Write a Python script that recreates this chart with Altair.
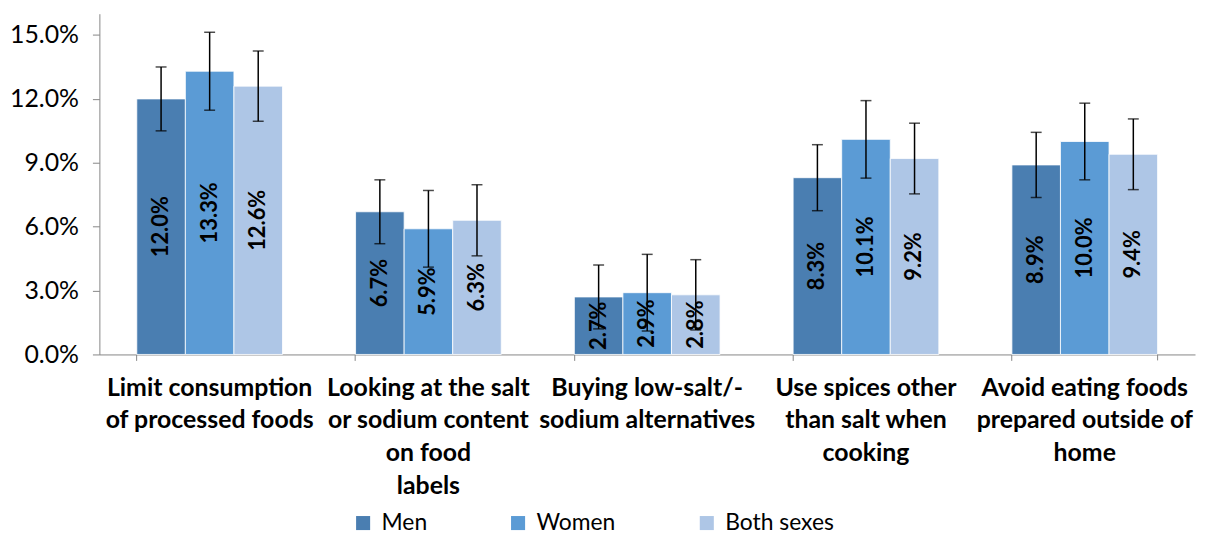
import altair as alt
import pandas as pd

categories = [
    "Limit consumption\nof processed foods",
    "Looking at the salt\nor  sodium content\non food\nlabels",
    "Buying low-salt/-\nsodium alternatives",
    "Use spices other\nthan salt when\ncooking",
    "Avoid eating foods\nprepared outside of\nhome",
]
groups = ["Men", "Women", "Both sexes"]
colors = ["#4A7EB1", "#5B9BD5", "#AEC6E6"]

men = [12.0, 6.7, 2.7, 8.3, 8.9]
women = [13.3, 5.9, 2.9, 10.1, 10.0]
both = [12.6, 6.3, 2.8, 9.2, 9.4]
men_err = [1.5, 1.5, 1.5, 1.55, 1.53]
women_err = [1.83, 1.8, 1.8, 1.82, 1.8]
both_err = [1.65, 1.67, 1.65, 1.66, 1.66]

rows = []
for i, c in enumerate(categories):
    for g, vals, errs in zip(groups, [men, women, both], [men_err, women_err, both_err]):
        v = vals[i]
        e = errs[i]
        rows.append({"cat": c, "grp": g, "val": v, "lo": v - e, "hi": v + e,
                     "mid": v / 2, "lab": f"{v:.1f}%"})
df = pd.DataFrame(rows)

FONT = "Lato"
AXIS_GRAY = "#868686"
yscale = alt.Scale(domain=[0, 16], nice=False)
yaxis = alt.Axis(values=[0, 3, 6, 9, 12, 15],
                 labelExpr="format(datum.value, '.1f') + '%'",
                 grid=False, tickSize=7, labelPadding=14,
                 labelFont=FONT, labelFontSize=25, labelColor="black",
                 tickColor=AXIS_GRAY, domainColor=AXIS_GRAY)

xscale = alt.Scale(paddingInner=0.334, paddingOuter=0.171)
xaxis = alt.Axis(labelAngle=0, labelExpr="split(datum.label, '\\n')",
                 bandPosition=0, labelFont=FONT, labelFontSize=25,
                 labelFontWeight="bold", labelColor="black",
                 labelLineHeight=33, labelLimit=0, labelPadding=15,
                 tickSize=6, tickColor=AXIS_GRAY, domainColor=AXIS_GRAY,
                 labelBaseline="top")
x = alt.X("cat:N", sort=categories, title=None, scale=xscale, axis=xaxis)
xoff = alt.XOffset("grp:N", sort=groups, scale=alt.Scale(paddingInner=0, paddingOuter=0))

bars = alt.Chart(df).mark_bar(stroke="white", strokeWidth=0.8).encode(
    x=x, xOffset=xoff,
    y=alt.Y("val:Q", scale=yscale, title=None, axis=yaxis),
    color=alt.Color("grp:N", sort=groups,
                    scale=alt.Scale(domain=groups, range=colors),
                    legend=alt.Legend(title=None, orient="none", legendX=254, legendY=501,
                                      direction="horizontal", symbolType="square",
                                      symbolSize=200, symbolStrokeWidth=0,
                                      labelFont=FONT, labelFontSize=23, labelColor="black",
                                      columnPadding=80, labelOffset=7)),
)

rule = alt.Chart(df).mark_rule(color="black", strokeWidth=1.5).encode(
    x=x, xOffset=xoff,
    y=alt.Y("lo:Q", scale=yscale, title=None, axis=yaxis), y2="hi:Q")
cap_hi = alt.Chart(df).mark_tick(color="black", thickness=1.5, size=11, orient="horizontal").encode(
    x=x, xOffset=xoff, y=alt.Y("hi:Q", scale=yscale, title=None, axis=yaxis))
cap_lo = alt.Chart(df).mark_tick(color="black", thickness=1.5, size=11, orient="horizontal").encode(
    x=x, xOffset=xoff, y=alt.Y("lo:Q", scale=yscale, title=None, axis=yaxis))
text = alt.Chart(df).mark_text(angle=270, font=FONT, fontSize=22, fontWeight="bold",
                               color="black", align="center", baseline="middle").encode(
    x=x, xOffset=xoff, y=alt.Y("mid:Q", scale=yscale, title=None, axis=yaxis), text="lab:N")

# closing tick at the right end of the category axis
end_tick = alt.Chart(pd.DataFrame({"cat": [categories[-1]]})).mark_rule(
    color=AXIS_GRAY, strokeWidth=1).encode(
    x=alt.X("cat:N", sort=categories, title=None, scale=xscale, axis=xaxis, bandPosition=1),
    y=alt.value(343), y2=alt.value(349))

chart = alt.layer(bars, rule, cap_hi, cap_lo, text, end_tick).properties(
    width=1103, height=343,
    padding={"left": 92, "top": 4, "right": 2, "bottom": 180},
    autosize=alt.AutoSizeParams(type="none"),
).configure_view(stroke=None)

chart.save("out.html", embed_options={"renderer": "svg", "actions": False})
